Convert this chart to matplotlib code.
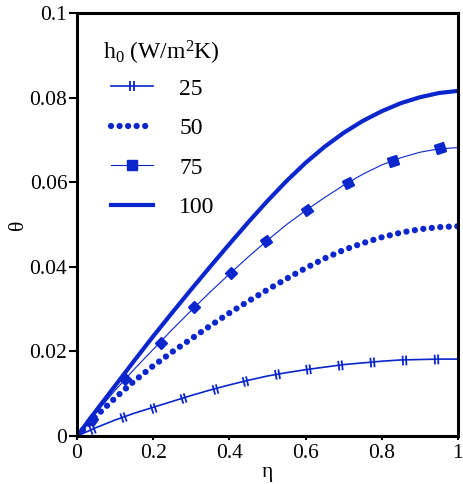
import numpy as np
import matplotlib
matplotlib.use('Agg')
import matplotlib.pyplot as plt
from matplotlib.lines import Line2D
from matplotlib.markers import MarkerStyle
from matplotlib.path import Path
from matplotlib.transforms import Affine2D

# Fuente tipo Times
plt.rcParams['font.family'] = ['Liberation Serif', 'DejaVu Serif']
plt.rcParams['mathtext.default'] = 'regular'

# Datos
eta = [0, 0.05, 0.1, 0.15, 0.2, 0.25, 0.3, 0.35, 0.4, 0.45, 0.5,
       0.55, 0.6, 0.65, 0.7, 0.75, 0.8, 0.85, 0.9, 0.95, 1.0]
theta_25 = [0, 0.0020, 0.0038, 0.0054, 0.0068, 0.0082, 0.0096, 0.0109, 0.0121, 0.0132, 0.0142,
            0.0150, 0.0157, 0.0163, 0.0169, 0.0173, 0.0177, 0.0180, 0.0181, 0.0182, 0.0182]
theta_50 = [0, 0.0047, 0.0090, 0.0130, 0.0166, 0.0199, 0.0230, 0.0261, 0.0291, 0.0319, 0.0346,
            0.0372, 0.0397, 0.0420, 0.0440, 0.0456, 0.0470, 0.0481, 0.0489, 0.0494, 0.0496]
theta_75 = [0, 0.0055, 0.0108, 0.0158, 0.0205, 0.0252, 0.0297, 0.0341, 0.0383, 0.0424, 0.0463,
            0.0500, 0.0533, 0.0564, 0.0593, 0.0619, 0.0641, 0.0658, 0.0671, 0.0679, 0.0682]
theta_100 = [0, 0.0060, 0.0119, 0.0178, 0.0236, 0.0292, 0.0347, 0.0401, 0.0454, 0.0506, 0.0556,
             0.0603, 0.0646, 0.0684, 0.0717, 0.0745, 0.0768, 0.0787, 0.0801, 0.0811, 0.0816]

# posiciones de los simbolos
marcas_25_x = [0.039, 0.12, 0.199, 0.278, 0.361, 0.442, 0.524, 0.606, 0.69, 0.774, 0.859, 0.942]
marcas_25_y = [0.0017, 0.0044, 0.0067, 0.0091, 0.0112, 0.0131, 0.0146, 0.0158, 0.0168, 0.0175, 0.0180, 0.0182]
marcas_75_x = [0.039, 0.126, 0.22, 0.308, 0.403, 0.497, 0.603, 0.711, 0.829, 0.953]
marcas_75_y = [0.0038, 0.0135, 0.0221, 0.0304, 0.0386, 0.0462, 0.0535, 0.0599, 0.0651, 0.0680]

etiquetas = ['25', '50', '75', '100']
titulo_leyenda = 'h$_0$ (W/m$^2$K)'

AZUL = '#0a26cc'
FS = 15.5      # numeros de los ejes
FS_LEY = 17    # leyenda

fig = plt.figure(figsize=(4.64, 4.84), dpi=100)
ax = fig.add_axes([0.166, 0.099, 0.821, 0.874])
ax.set_xlim(0, 1)
ax.set_ylim(0, 0.1)

punteado = (0, (0.01, 6.1 / 4.5))
ax.plot(eta, theta_25, color=AZUL, lw=1.2)
ax.plot(eta, theta_50, color=AZUL, lw=4.5, ls=punteado, dash_capstyle='round')
ax.plot(eta, theta_75, color=AZUL, lw=0.8)
ax.plot(eta, theta_100, color=AZUL, lw=3.0)

# simbolo de dos barras
barras = Path([(-0.35, -1), (-0.35, 1), (0.35, -1), (0.35, 1)],
              [Path.MOVETO, Path.LINETO, Path.MOVETO, Path.LINETO])


def angulos(xs, ys):
    # angulo de la curva en pantalla en cada simbolo
    pts = ax.transData.transform(np.column_stack([xs, ys]))
    return np.degrees(np.arctan2(np.gradient(pts[:, 1]), np.gradient(pts[:, 0])))


for x, y, a in zip(marcas_25_x, marcas_25_y, angulos(marcas_25_x, marcas_25_y)):
    ax.plot(x, y, ls='none', marker=MarkerStyle(barras, transform=Affine2D().rotate_deg(a)),
            ms=7, mec=AZUL, mfc='none', mew=1.3)
for x, y, a in zip(marcas_75_x, marcas_75_y, angulos(marcas_75_x, marcas_75_y)):
    ax.plot(x, y, ls='none', marker=MarkerStyle('s', transform=Affine2D().rotate_deg(a)),
            ms=6.5, mec=AZUL, mfc=AZUL)

# leyenda (titulo aparte para ubicarlo bien)
h25 = Line2D([], [], color=AZUL, lw=1.2, marker=barras, ms=7, mec=AZUL, mfc='none', mew=1.3)
h50 = Line2D([], [], color=AZUL, lw=4.5, ls=punteado, dash_capstyle='round')
h75 = Line2D([], [], color=AZUL, lw=0.8, marker='s', ms=6.5, mec=AZUL, mfc=AZUL)
h100 = Line2D([], [], color=AZUL, lw=3.0)
ax.legend([h25, h50, h75, h100], etiquetas, frameon=False,
          loc='upper left', bbox_to_anchor=(0.089, 0.846), borderpad=0, borderaxespad=0,
          fontsize=FS_LEY, handlelength=1.8, handletextpad=1.1,
          labelspacing=0.76, numpoints=1)
ax.text(0.068, 0.889, titulo_leyenda, transform=ax.transAxes, fontsize=FS_LEY,
        ha='left', va='baseline')

# ejes
ax.set_xticks([0, 0.2, 0.4, 0.6, 0.8, 1.0])
ax.set_yticks([0, 0.02, 0.04, 0.06, 0.08, 0.1])
ax.xaxis.set_major_formatter(plt.FuncFormatter(lambda v, p: '%g' % v))
ax.yaxis.set_major_formatter(plt.FuncFormatter(lambda v, p: '%g' % v))
ax.tick_params(axis='both', direction='out', labelsize=FS, width=1.5)
ax.tick_params(axis='y', length=6, pad=1)
ax.tick_params(axis='x', length=3, pad=3)
for s in ax.spines.values():
    s.set_linewidth(2.2)

ax.set_xlabel('\u03b7', fontsize=FS, labelpad=0)
ax.set_ylabel('\u03b8', fontsize=FS)
ax.yaxis.set_label_coords(-0.128, 0.5)

fig.savefig('out.png', dpi=100)
